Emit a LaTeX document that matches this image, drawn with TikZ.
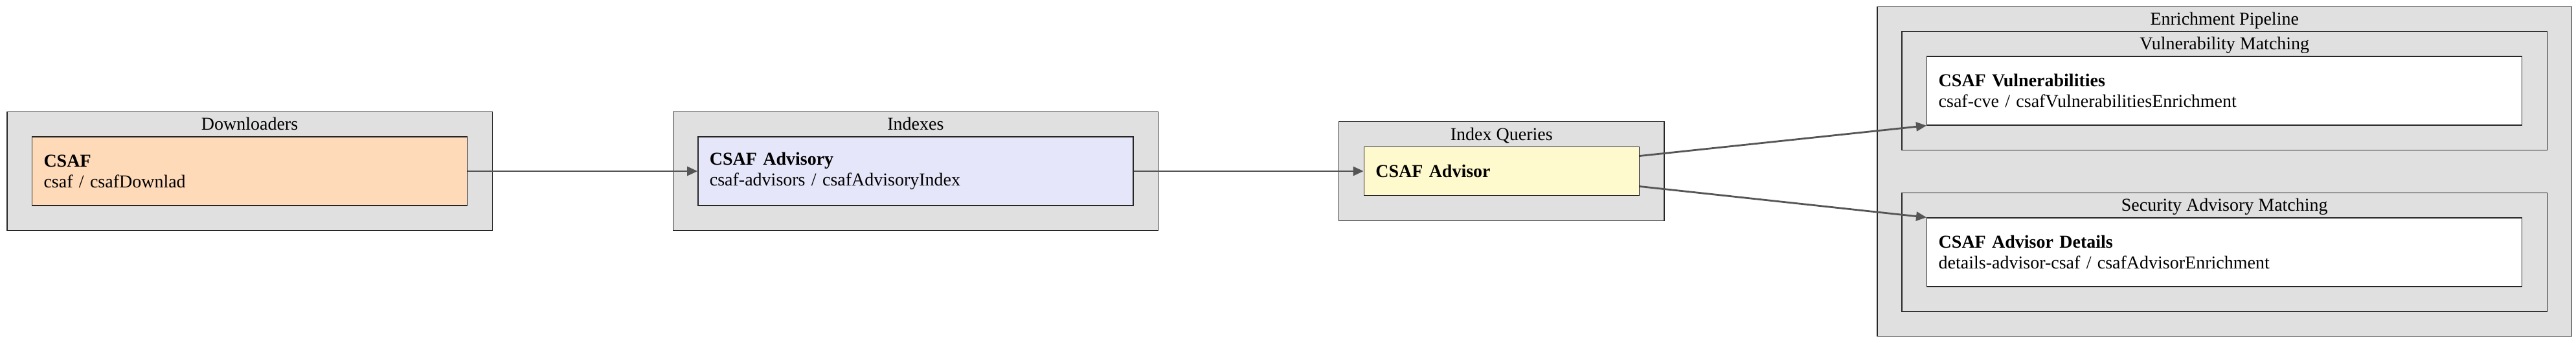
\documentclass[tikz,border=0pt]{standalone}
\usepackage{fontspec}
\setmainfont{Liberation Serif}
\usepackage{xcolor}
\usepackage{tikz}
\usetikzlibrary{arrows.meta,positioning,fit,backgrounds}

\definecolor{peach}{HTML}{FFDAB9}
\definecolor{lavender}{HTML}{E6E6FA}
\definecolor{lemon}{HTML}{FFFACD}
\definecolor{groupgray}{HTML}{E0E0E0}
\definecolor{edgegray}{HTML}{555555}

\begin{document}
\begin{tikzpicture}[
  font=\fontsize{14}{16}\selectfont,
  node distance=177.5pt,
  box/.style={rectangle, draw=black!85, line width=0.7pt, align=left, inner xsep=9pt, inner ysep=0pt, minimum height=53pt, text width=318pt},
  srcbox/.style={box, fill=peach},
  idxbox/.style={box, fill=lavender},
  qrybox/.style={box, fill=lemon, text width=194.5pt, minimum height=37.5pt},
  enrbox/.style={box, fill=white, text width=441.5pt},
  group/.style={rectangle, draw=black!85, line width=0.7pt, fill=groupgray, inner sep=19pt},
  grouplabel/.style={anchor=base, inner sep=0pt},
  arr/.style={-{Triangle[length=8pt,width=7pt]}, line width=1.4pt, draw=edgegray, fill=edgegray}
]
\useasboundingbox (0,0) rectangle (1989pt,-264.5pt);

% Sources
\node[srcbox] (csaf) at (192.75pt,-132pt) {\textbf{CSAF}\\csaf / csafDownlad};

% Index
\node[idxbox, right=of csaf] (advisory) {\textbf{CSAF Advisory}\\csaf-advisors / csafAdvisoryIndex};

% Query
\node[qrybox, right=of advisory] (advisor) {\textbf{CSAF Advisor}};

% Enrichment
\node[enrbox, right=221.5pt of advisor, yshift=62pt] (vulns) {\textbf{CSAF Vulnerabilities}\\csaf-cve / csafVulnerabilitiesEnrichment};
\node[enrbox, right=221.5pt of advisor, yshift=-62.5pt] (details) {\textbf{CSAF Advisor Details}\\details-advisor-csaf / csafAdvisorEnrichment};

% Groups
\begin{scope}[on background layer]
  \node[group, fit=(csaf)] (downloaders) {};
  \node[group, fit=(advisory)] (indexes) {};
  \node[group, fit=(advisor)] (queries) {};
  \node[group, fit=(vulns)(details), inner sep=38pt] (enrichment) {};
  \node[group, fit=(vulns)] (vulnmatch) {};
  \node[group, fit=(details)] (secmatch) {};
\end{scope}

% Group labels
\node[grouplabel] at ([yshift=-14.5pt]downloaders.north) {Downloaders};
\node[grouplabel] at ([yshift=-14.5pt]indexes.north) {Indexes};
\node[grouplabel] at ([yshift=-14.5pt]queries.north) {Index Queries};
\node[grouplabel] at ([yshift=-14.5pt]enrichment.north) {Enrichment Pipeline};
\node[grouplabel] at ([yshift=-14.5pt]vulnmatch.north) {Vulnerability Matching};
\node[grouplabel] at ([yshift=-14.5pt]secmatch.north) {Security Advisory Matching};

% Arrows
\draw[arr] (csaf) -- (advisory);
\draw[arr] (advisory) -- (advisor);
\draw[arr] ([yshift=11.75pt]advisor.east) -- (vulns.south west);
\draw[arr] ([yshift=-11.75pt]advisor.east) -- (details.north west);

\end{tikzpicture}
\end{document}
